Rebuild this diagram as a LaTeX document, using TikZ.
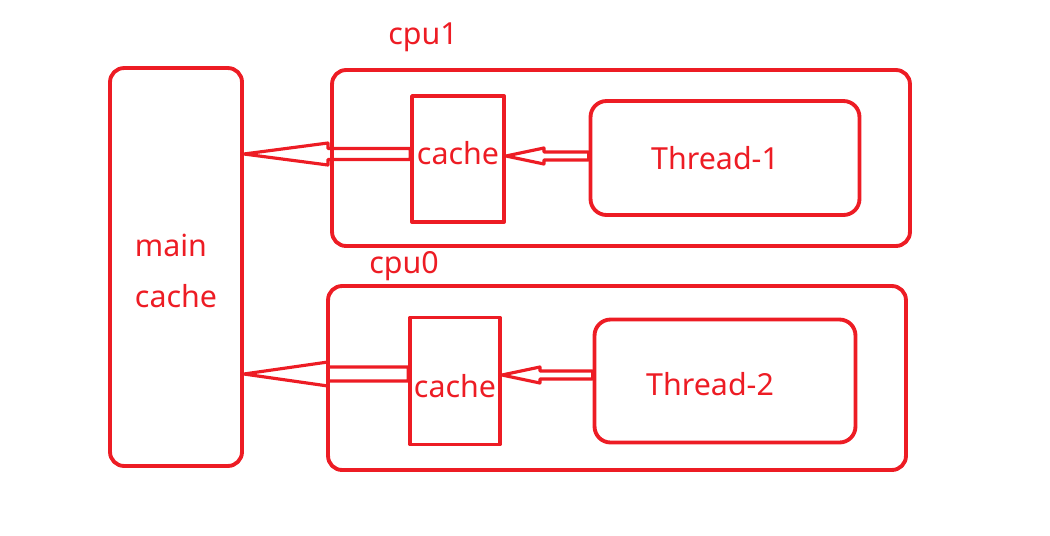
\documentclass[tikz,border=0pt]{standalone}
\usepackage{fontspec}
\setmainfont{Noto Sans}
\usetikzlibrary{calc,positioning}
\definecolor{paintred}{RGB}{237,28,36}

\begin{document}
\begin{tikzpicture}[x=0.02cm,y=-0.02cm, line join=round,
        box/.style={draw=paintred, line width=2.2pt, rounded corners=0.28cm},
        cachebox/.style={draw=paintred, line width=2.2pt},
        lbl/.style={text=paintred, font=\fontsize{17.3}{29}\selectfont},
        hollow/.style={draw=paintred, line width=1.8pt}]
        \useasboundingbox (0,0) rectangle (1050,535);

        % boxes
        \node[box, minimum width=2.64cm, minimum height=7.96cm,
            label={[lbl, align=left, yshift=-0.08cm]center:main\\cache}] (main) at (176,267) {};
        \node[box, minimum width=11.56cm, minimum height=3.52cm] (cpuA) at (621,158) {};
        \node[box, minimum width=11.56cm, minimum height=3.68cm] (cpuB) at (617,378) {};
        \node[cachebox, minimum width=1.84cm, minimum height=2.52cm,
            label={[lbl, yshift=0.12cm]center:cache}] (cacheA) at (458,159) {};
        \node[cachebox, minimum width=1.80cm, minimum height=2.54cm,
            label={[lbl, yshift=-0.1cm]center:cache}] (cacheB) at (455,381) {};
        \node[box, rounded corners=0.32cm, minimum width=5.38cm, minimum height=2.28cm,
            label={[lbl, xshift=-0.2cm]center:Thread-1}] (threadA) at (725,158) {};
        \node[box, rounded corners=0.32cm, minimum width=5.22cm, minimum height=2.46cm,
            label={[lbl, xshift=-0.3cm, yshift=-0.06cm]center:Thread-2}] (threadB) at (725,381) {};
        \node[lbl] (cpuAlbl) at (423,37) {cpu1};
        \node[lbl] (cpuBlbl) at (404,266) {cpu0};

        % arrows cache -> main
        \coordinate (t1) at (main.east |- 0,154);
        \coordinate (s1) at (cacheA.west |- 0,154);
        \draw[hollow] (t1) -- ($(t1)+(84,-11)$) -- ($(t1)+(84,-5.5)$) -- ($(s1)+(0,-5.5)$)
            -- ($(s1)+(0,5.5)$) -- ($(t1)+(84,5.5)$) -- ($(t1)+(84,11)$) -- cycle;
        \coordinate (t2) at (main.east |- 0,374);
        \coordinate (s2) at (cacheB.west |- 0,374);
        \draw[hollow] (t2) -- ($(t2)+(84,-12)$) -- ($(t2)+(84,-7)$) -- ($(s2)+(0,-7)$)
            -- ($(s2)+(0,7)$) -- ($(t2)+(84,7)$) -- ($(t2)+(84,12)$) -- cycle;

        % arrows thread -> cache
        \coordinate (t3) at (cacheA.east |- 0,156);
        \coordinate (s3) at (threadA.west |- 0,156);
        \draw[hollow] (t3) -- ($(t3)+(38,-8)$) -- ($(t3)+(38,-4)$) -- ($(s3)+(0,-4)$)
            -- ($(s3)+(0,4)$) -- ($(t3)+(38,4)$) -- ($(t3)+(38,8)$) -- cycle;
        \coordinate (t4) at (cacheB.east |- 0,375);
        \coordinate (s4) at (threadB.west |- 0,375);
        \draw[hollow] (t4) -- ($(t4)+(38,-8)$) -- ($(t4)+(38,-4)$) -- ($(s4)+(0,-4)$)
            -- ($(s4)+(0,4)$) -- ($(t4)+(38,4)$) -- ($(t4)+(38,8)$) -- cycle;
    \end{tikzpicture}
\end{document}
